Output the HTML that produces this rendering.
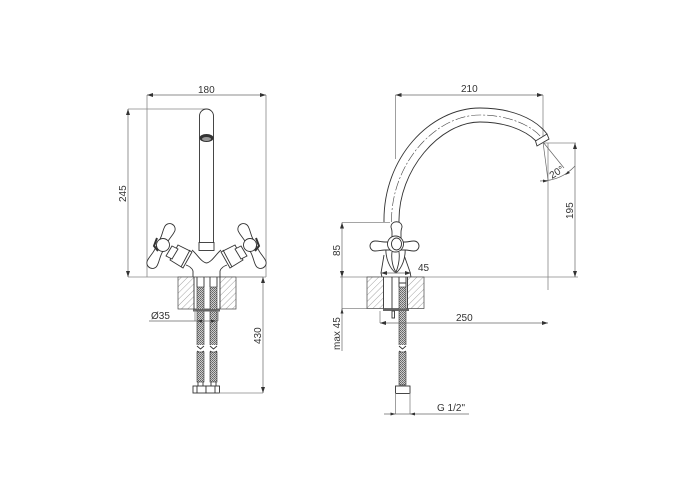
<!DOCTYPE html>
<html><head><meta charset="utf-8"><style>
html,body{margin:0;padding:0;background:#fff;width:700px;height:500px;overflow:hidden}
svg{display:block}
text{font-family:"Liberation Sans",sans-serif;font-size:10px;fill:#333}
.d{stroke:#666;stroke-width:.7;fill:none}
.e{stroke:#888;stroke-width:.8;fill:none}
.o{stroke:#333;stroke-width:.9;fill:#fff}
.n{stroke:#333;stroke-width:.9;fill:none}
.a{fill:#333;stroke:none}
</style></head><body>
<svg width="700" height="500" viewBox="0 0 700 500" xmlns="http://www.w3.org/2000/svg">
<defs>
<pattern id="h" width="4.500" height="4.500" patternUnits="userSpaceOnUse" patternTransform="rotate(45)"><rect width="4.500" height="4.500" fill="#fff"/><line x1="0" y1="0" x2="0" y2="4.500" stroke="#999" stroke-width=".9"/></pattern>
<pattern id="m" width="2" height="2" patternUnits="userSpaceOnUse"><rect width="2" height="2" fill="#ccc"/><rect width="1" height="1" fill="#666"/><rect x="1" y="1" width="1" height="1" fill="#777"/></pattern>
<g id="lh">
<path class="n" d="M193,277 L193,271 C192,268 189,266 186,265"/>
<path class="n" d="M192,250 C197,254 201,262 206.500,263"/>
<path class="o" d="M178,245 L192,252 L183,268 L170,260Z"/>
<path class="n" d="M190,250 L181,267" stroke-width="1.300"/>
<path class="o" d="M172,246 L178,249 L172,259 L166,256Z"/>
<path class="o" transform="translate(161,246) rotate(27)" d="M-4,-6 C-4,-11 -5.500,-14 -5.500,-19 A5.500,5.500 0 0 1 5.500,-19 C5.500,-14 4,-11 4,-6 L4,6 C4,11 5.500,14 5.500,19 A5.500,5.500 0 0 1 -5.500,19 C-5.500,14 -4,11 -4,6Z"/>
<circle class="o" cx="163" cy="245" r="6.500"/>
<path d="M157,238 L154,246 L158,251" stroke="#333" stroke-width="2" fill="none"/>
</g>
<marker id="ar" viewBox="0 0 6 4" refX="6" refY="2" markerWidth="6" markerHeight="4" orient="auto-start-reverse" markerUnits="userSpaceOnUse"><path d="M0,0 L6,2 L0,4Z" fill="#333"/></marker>
</defs>

<!-- LEFT VIEW dimensions -->
<path class="e" d="M147,95 V277 M266,95 V277 M128,277 H266 M128,109 H207"/>
<line class="d" x1="147" y1="95" x2="266" y2="95" marker-start="url(#ar)" marker-end="url(#ar)"/>
<line class="d" x1="128" y1="109" x2="128" y2="277" marker-start="url(#ar)" marker-end="url(#ar)"/>
<text x="198" y="93">180</text>
<text transform="translate(126,202) rotate(-90)">245</text>

<!-- Spout front -->
<path class="o" d="M199.500,243 V116 A7,7 0 0 1 213.500,116 V243Z"/>
<ellipse cx="206.500" cy="138" rx="7" ry="4" fill="#333"/>
<ellipse cx="206.500" cy="139" rx="4.500" ry="2" fill="#999"/>
<rect class="o" x="199" y="242.500" width="15" height="8"/>
<use href="#lh"/>
<use href="#lh" transform="translate(413,0) scale(-1,1)"/>

<!-- block left -->
<rect x="178" y="277" width="58" height="32" fill="url(#h)" stroke="#444" stroke-width=".7"/>
<rect x="194" y="277.500" width="26" height="31" fill="#fff"/>
<path class="n" d="M194,277 V309 M220,277 V309" stroke-width=".7"/>
<rect x="197" y="287" width="7" height="60" fill="url(#m)" stroke="#333" stroke-width=".6"/>
<rect x="210" y="287" width="7" height="60" fill="url(#m)" stroke="#333" stroke-width=".6"/>
<path class="n" d="M197,277 V287 M204,277 V287 M210,277 V287 M217,277 V287" stroke-width=".7"/>
<rect x="193" y="309" width="27" height="2.500" fill="#666"/>
<rect x="194" y="345" width="26" height="7" fill="#fff"/>
<path class="n" d="M197,346 L200.500,349 L204,346 M210,346 L213.500,349 L217,346 M197,351 L200.500,353 L204,351 M210,351 L213.500,353 L217,351" stroke-width=".7"/>
<rect x="197" y="352" width="7" height="30" fill="url(#m)" stroke="#333" stroke-width=".6"/>
<rect x="210" y="352" width="7" height="30" fill="url(#m)" stroke="#333" stroke-width=".6"/>
<path class="n" d="M198,382 V386 M203,382 V386 M211,382 V386 M216,382 V386" stroke-width=".7"/>
<rect class="o" x="193" y="386" width="13" height="7"/>
<rect class="o" x="206" y="386" width="13.500" height="7"/>
<path class="n" d="M197,386 V393 M215,386 V393" stroke-width=".5"/>

<path class="e" d="M195,310 V321 M218,310 V321 M219,393 H263 M236,277 H263"/>
<line class="d" x1="149" y1="321" x2="218" y2="321"/>
<path class="a" d="M197,321 l5,-1.500 v3Z M216,321 l-5,-1.500 v3Z"/>
<text x="151" y="319">Ø35</text>
<line class="d" x1="263" y1="277" x2="263" y2="393" marker-start="url(#ar)" marker-end="url(#ar)"/>
<text transform="translate(261,344) rotate(-90)">430</text>

<!-- RIGHT VIEW dimensions -->
<path class="e" d="M395.500,95 V159 M543,95 V141 M340,277 H578 M543,143 H576 M548,143 V290 M342,222.500 H390 M342,308.500 H367"/>
<line class="d" x1="395.500" y1="95" x2="543" y2="95" marker-start="url(#ar)" marker-end="url(#ar)"/>
<text x="461" y="92">210</text>
<line class="d" x1="575" y1="143" x2="575" y2="277" marker-start="url(#ar)" marker-end="url(#ar)"/>
<text transform="translate(573,219) rotate(-90)">195</text>
<line class="d" x1="342" y1="222.500" x2="342" y2="277" marker-start="url(#ar)" marker-end="url(#ar)"/>
<text transform="translate(340,256) rotate(-90)">85</text>
<line class="d" x1="342" y1="277" x2="342" y2="351"/>
<path class="a" d="M342,277 l-1.500,-5 h3Z M342,308.500 l-1.500,5 h3Z"/>
<text transform="translate(340,350) rotate(-90)">max 45</text>

<!-- spout side -->
<path class="n" d="M384,222 C383,158 430,108 480,108 C510,108 535,118 547,134"/>
<path class="n" d="M399,222 C398,170 440,122 480,122 C503,122 524,129 536,141"/>
<path d="M391.500,222 C391,164 435,115 480,115 C506,115 530,124 541,137" fill="none" stroke="#444" stroke-width=".6" stroke-dasharray="10 2 2 2"/>
<path class="o" d="M535.500,141 L547,134 L549,139 L537,146Z"/>
<path class="d" d="M543,142 L548,180 M543,142 L564,168"/>
<path class="d" d="M540,181 Q561,181 575,166"/>
<path class="a" d="M548,181 l-5,-1.500 v3Z M565,175 l3,-4 2,2Z"/>
<text transform="translate(552,179) rotate(-32)">20°</text>

<!-- handle side -->
<path class="n" d="M384,255 L381,273 L382,277 M404,255 L410,272 L411,277" stroke-width=".7"/>
<path class="o" d="M386,247 L405,247 C406,258 402,268 396,273 C390,269 385,258 386,247Z"/>
<path class="n" d="M392,252 C391,260 393,268 396,272 M399,252 C400,260 398,267 396,272" stroke-width=".7"/>
<path class="o" d="M392,238 V232 C392,229 391,228 391,227 C391,220 402,220 402,227 C402,228 401,229 401,232 V238Z"/>
<path class="o" d="M385,242 C381,242 380,241 375,241 A5,5 0 0 0 375,251 C380,251 381,250 385,250 H405 C409,250 410,251 414,251 A5,5 0 0 0 414,241 C410,241 409,242 405,242Z"/>
<circle class="o" cx="395.500" cy="244" r="8" stroke-width="1.300"/>
<ellipse class="n" cx="396.500" cy="244" rx="5" ry="6" stroke-width=".6"/>
<line class="d" x1="381" y1="273" x2="411" y2="273" marker-start="url(#ar)" marker-end="url(#ar)"/>
<text x="418" y="271">45</text>

<!-- block right -->
<rect x="367" y="277" width="57" height="31.500" fill="url(#h)" stroke="#444" stroke-width=".7"/>
<rect x="383.500" y="277.500" width="24" height="30.500" fill="#fff"/>
<path class="n" d="M383.500,277 V309 M407.500,277 V309 M392,277 V309" stroke-width=".7"/>
<path class="n" d="M399,277 V287 M406,277 V287 M399,283 H406" stroke-width=".7"/>
<rect x="399" y="287" width="7" height="60" fill="url(#m)" stroke="#333" stroke-width=".6"/>
<rect x="383" y="308.500" width="26" height="2.500" fill="#666"/>
<rect class="o" x="392" y="311" width="2.500" height="7" stroke-width=".6"/>
<rect x="396" y="345" width="13" height="6" fill="#fff"/>
<path class="n" d="M399,346 L402.500,349 L406,346 M399,351 L402.500,353 L406,351" stroke-width=".7"/>
<rect x="399" y="352" width="7" height="33" fill="url(#m)" stroke="#333" stroke-width=".6"/>
<rect class="o" x="395.500" y="386" width="14.500" height="7.500"/>

<path class="e" d="M380,311 V323 M395.500,393 V414 M410,393 V414"/>
<line class="d" x1="380" y1="323" x2="548" y2="323" marker-start="url(#ar)" marker-end="url(#ar)"/>
<text x="456" y="321">250</text>
<line class="d" x1="384" y1="414" x2="469" y2="414"/>
<path class="a" d="M395.500,414 l-5,-1.500 v3Z M410,414 l5,-1.500 v3Z"/>
<text x="437" y="411">G 1/2"</text>
</svg>
</body></html>
